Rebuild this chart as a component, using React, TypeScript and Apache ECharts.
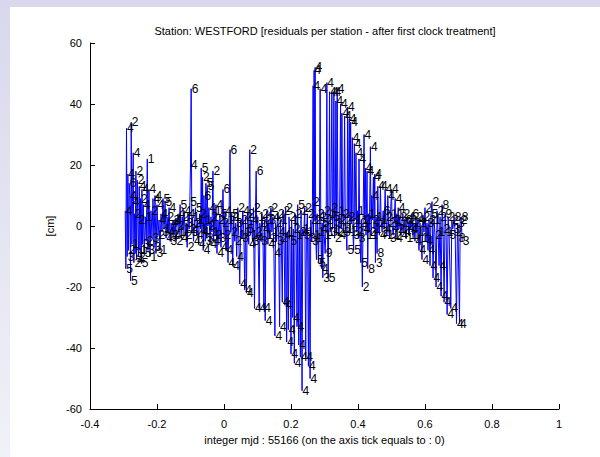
import React, { useEffect, useRef } from "react";
import * as echarts from "echarts";

const titleText = "Station: WESTFORD [residuals per station - after first clock treatment]";
const xAxisTitle = "integer mjd : 55166 (on the axis tick equals to : 0)";
const yAxisTitle = "[cm]";
const xTicks = [-0.4, -0.2, 0, 0.2, 0.4, 0.6, 0.8, 1];
const yTicks = [-60, -40, -20, 0, 20, 40, 60];

// [mjd offset, residual cm, baseline label]
const earlySession = [
  [-0.295, 5, 4], [-0.293, -14, 5], [-0.291, 32, 4], [-0.289, -10, 3], [-0.287, 17, 4], [-0.285, -8, 2], [-0.283, 14, 6], [-0.281, 10, 4],
  [-0.279, -18, 5], [-0.277, 34, 2], [-0.275, -6, 1], [-0.273, 8, 4], [-0.271, 24, 4], [-0.269, -12, 2], [-0.267, 4, 2], [-0.265, -9, 3],
  [-0.263, 18, 2], [-0.261, -11, 4], [-0.259, 15, 2], [-0.257, 2, 2], [-0.255, -10, 2], [-0.253, 13, 4], [-0.251, -8, 1], [-0.249, 9, 2],
  [-0.247, -12, 5], [-0.245, 12, 4], [-0.243, -6, 3], [-0.241, 7, 4], [-0.238, -9, 5], [-0.235, 3, 1], [-0.232, -5, 2], [-0.229, 22, 1],
  [-0.227, -8, 3], [-0.224, 12, 4], [-0.221, -10, 1], [-0.218, 5, 2], [-0.215, -4, 3], [-0.212, 9, 4], [-0.209, -7, 3], [-0.206, 10, 4],
  [-0.203, -9, 3], [-0.2, 7, 4], [-0.197, -3, 2], [-0.194, 2, 4], [-0.191, -8, 1], [-0.188, 4, 4], [-0.185, -2, 3], [-0.182, 9, 5],
  [-0.179, -1, 1], [-0.176, 8, 5], [-0.173, -4, 4], [-0.17, 3, 2], [-0.167, -2, 4], [-0.164, 6, 4], [-0.161, -5, 3], [-0.158, 1, 4],
  [-0.155, -3, 2], [-0.152, 2, 2],
  [-0.149, -3, 4], [-0.146, 2, 4], [-0.143, -5, 2], [-0.14, 0, 2], [-0.137, 4, 4], [-0.134, -2, 1], [-0.131, 7, 5], [-0.128, -4, 4],
  [-0.125, 3, 2], [-0.122, -1, 1], [-0.119, 5, 4], [-0.116, -3, 2], [-0.113, 1, 3], [-0.11, -7, 2], [-0.107, 4, 4], [-0.104, -1, 2],
  [-0.102, 8, 5], [-0.1, 20, 4], [-0.098, 45, 6], [-0.096, -2, 5], [-0.094, 3, 1], [-0.091, -5, 4], [-0.088, 1, 2], [-0.085, 6, 5],
  [-0.082, -3, 4], [-0.079, 2, 1],
];

const middleSession = [
  [-0.076, -6, 4], [-0.073, 4, 2], [-0.07, -1, 1], [-0.068, 19, 5], [-0.066, -2, 4], [-0.064, 16, 2], [-0.062, -8, 4], [-0.06, 10, 6],
  [-0.058, 2, 1], [-0.056, -5, 3], [-0.054, 14, 5], [-0.052, -4, 3], [-0.05, 13, 5], [-0.048, 0, 2], [-0.045, 6, 4], [-0.042, -6, 4],
  [-0.039, 3, 2], [-0.036, -2, 1], [-0.033, 18, 2], [-0.031, -5, 4], [-0.029, 5, 1], [-0.027, -3, 2], [-0.024, 7, 4], [-0.021, -9, 4],
  [-0.018, 2, 2], [-0.015, -4, 3], [-0.012, 4, 5], [-0.009, -7, 4], [-0.006, 1, 2], [-0.003, 12, 6], [0.0, -3, 2], [0.003, 5, 4],
  [0.006, -8, 4], [0.009, 2, 1], [0.012, -12, 4], [0.015, 3, 3], [0.018, 25, 6], [0.02, -2, 2], [0.023, 4, 5], [0.026, -13, 4],
  [0.029, 3, 1], [0.032, -5, 2], [0.035, 1, 3], [0.038, -10, 4], [0.041, 6, 2], [0.044, -3, 1], [0.047, -19, 4],
  [0.05, 2, 2], [0.053, -4, 3], [0.056, 5, 4], [0.059, -2, 1], [0.062, -21, 4], [0.064, 3, 2], [0.067, -22, 4], [0.069, -1, 5],
  [0.071, 4, 2], [0.074, -6, 4], [0.077, 25, 2], [0.079, -3, 1], [0.082, 2, 4], [0.085, -5, 3], [0.088, 6, 2], [0.091, -27, 4],
  [0.093, -2, 2], [0.096, 18, 6], [0.098, -4, 4], [0.101, 3, 1], [0.105, -27, 4], [0.107, 1, 2], [0.11, -5, 3], [0.113, 4, 2],
  [0.116, -1, 4], [0.119, -27, 4], [0.121, 2, 2], [0.123, -31, 4], [0.125, -3, 1], [0.128, 5, 2], [0.131, -6, 4], [0.134, 2, 3],
  [0.137, -4, 2], [0.14, 6, 2], [0.143, -2, 1], [0.146, 3, 4], [0.149, -9, 4], [0.152, -36, 4], [0.154, 1, 2], [0.157, -5, 3],
  [0.16, 4, 2], [0.163, -2, 4], [0.166, -33, 4], [0.168, 2, 1], [0.171, -4, 2], [0.174, -25, 4], [0.176, 5, 2], [0.179, -3, 4],
  [0.182, -26, 4], [0.184, 6, 2], [0.187, -38, 4], [0.189, -2, 1], [0.192, -34, 4], [0.194, 3, 2], [0.197, -5, 5], [0.2, -42, 4],
  [0.202, 2, 1], [0.205, -30, 4], [0.207, -1, 2], [0.21, -45, 4], [0.212, 4, 2], [0.215, -3, 1], [0.218, -33, 4], [0.22, 7, 5],
  [0.223, -39, 4], [0.225, -2, 2], [0.228, -43, 4], [0.23, 5, 2], [0.233, -54, 4], [0.235, -1, 1], [0.238, -3, 5], [0.241, 6, 2],
  [0.244, -43, 4], [0.246, -2, 1], [0.249, 4, 2], [0.252, -46, 4], [0.254, -4, 3], [0.257, -50, 4], [0.259, 2, 2], [0.262, -5, 3],
];

const lateSession = [
  [0.264, 8, 2], [0.266, 46, 4], [0.267, -3, 1], [0.269, 51, 4], [0.271, 2, 2], [0.272, 52, 4], [0.274, -4, 1], [0.276, -11, 5],
  [0.278, 4, 2], [0.28, -2, 1], [0.282, -12, 5], [0.285, 3, 2], [0.287, 45, 4], [0.289, -1, 4], [0.291, -14, 4], [0.293, 1, 5],
  [0.295, -17, 3], [0.297, 5, 2], [0.299, -3, 1], [0.302, -9, 9], [0.305, 2, 2], [0.307, 47, 4], [0.309, -2, 1], [0.311, -17, 5],
  [0.313, 4, 1], [0.315, 44, 4], [0.317, -2, 3], [0.319, 6, 2], [0.322, 44, 4], [0.324, -1, 1], [0.326, 3, 5], [0.328, 44, 4],
  [0.33, -4, 2], [0.332, 1, 3], [0.334, 41, 4], [0.336, -2, 2], [0.338, 45, 4], [0.34, 5, 1], [0.343, -3, 4], [0.345, 2, 2],
  [0.348, 40, 4], [0.35, -1, 1], [0.352, 37, 4], [0.354, 4, 2], [0.357, -2, 3], [0.36, 36, 4], [0.362, 2, 2], [0.364, -1, 1],
  [0.367, -8, 5], [0.369, 39, 4], [0.371, 3, 2], [0.374, 35, 4], [0.376, -2, 1], [0.378, 34, 4], [0.38, 1, 2], [0.383, 29, 4],
  [0.385, -3, 3], [0.387, -8, 5], [0.389, 27, 4], [0.391, 2, 1], [0.394, 24, 4], [0.396, -2, 2], [0.398, 5, 1], [0.401, -4, 3],
  [0.403, 22, 4], [0.405, 1, 2], [0.408, -12, 5], [0.41, 2, 1], [0.413, -20, 2], [0.415, -1, 4], [0.418, 30, 4], [0.42, 2, 2],
  [0.422, 19, 4], [0.424, -3, 1], [0.427, 18, 4], [0.429, -14, 8], [0.431, 4, 1], [0.434, -2, 2], [0.437, 26, 4], [0.439, -3, 1],
  [0.441, 10, 4], [0.443, 2, 2], [0.446, 16, 4], [0.448, -1, 1], [0.45, 17, 4], [0.452, -12, 3], [0.454, 3, 1], [0.457, -9, 8],
  [0.459, 13, 4], [0.461, 1, 2], [0.464, -3, 4], [0.467, 13, 4], [0.469, 2, 1], [0.472, -2, 2], [0.475, 5, 6], [0.478, -1, 4],
  [0.481, 12, 4], [0.483, 3, 2], [0.486, -3, 1], [0.489, 10, 4], [0.491, 1, 2], [0.494, -4, 3], [0.497, 4, 1], [0.5, 12, 4],
  [0.502, 0, 2], [0.505, -3, 1], [0.508, 2, 2], [0.511, 9, 4], [0.513, -4, 4], [0.516, 4, 1], [0.518, -1, 2], [0.52, 6, 4],
  [0.522, -1, 1], [0.525, 3, 2], [0.528, -3, 4], [0.531, 1, 1], [0.534, 4, 2], [0.537, -2, 4], [0.54, 2, 6], [0.543, -4, 1],
  [0.546, 0, 2], [0.549, 3, 4], [0.552, -3, 1], [0.555, 2, 2], [0.558, -1, 4], [0.561, 4, 6], [0.564, -3, 1], [0.567, 1, 2],
  [0.57, -5, 4], [0.573, 3, 2], [0.576, -2, 1], [0.579, 2, 4], [0.582, -8, 4], [0.585, 1, 2], [0.588, -4, 1], [0.591, -11, 4],
  [0.594, 3, 2], [0.597, -2, 1], [0.6, 6, 2], [0.603, -5, 4], [0.606, 1, 3], [0.609, -8, 4], [0.612, 2, 2], [0.615, -13, 4],
  [0.618, 4, 5], [0.621, 8, 2], [0.624, -17, 4], [0.627, 2, 1], [0.63, -3, 2], [0.633, -20, 4], [0.636, 5, 2], [0.639, -2, 1],
  [0.642, -13, 4], [0.645, 3, 2], [0.648, -23, 4], [0.651, 7, 8], [0.654, -1, 2], [0.657, -25, 4], [0.66, 4, 9], [0.663, -2, 1],
  [0.666, -29, 4], [0.669, 3, 2], [0.672, -3, 5], [0.677, -27, 4], [0.68, 2, 2], [0.683, -1, 3], [0.687, 3, 8], [0.69, -2, 2],
  [0.694, -32, 4], [0.697, 1, 3], [0.699, -4, 8], [0.703, -32, 4], [0.705, 2, 2], [0.708, 3, 8], [0.711, -5, 3],
];

const FONT = "'Liberation Sans', Arial, Helvetica, sans-serif";

export default function App() {
  const ref = useRef<HTMLDivElement>(null);
  useEffect(() => {
    if (!ref.current) return;
    const chart = echarts.init(ref.current, null, { renderer: "svg" });
    const data = [...earlySession, ...middleSession, ...lateSession];
    const fmt = (v: number) => String(Math.round(v * 10) / 10);
    chart.setOption({
      animation: false,
      graphic: [
        {
          type: "text",
          x: 325,
          y: 31,
          style: {
            text: titleText,
            align: "center",
            verticalAlign: "middle",
            textAlign: "center",
            textVerticalAlign: "middle",
            fontSize: 11,
            fontFamily: FONT,
            fill: "#000",
          },
        },
      ],
      grid: { left: 90, right: 41, top: 43, bottom: 48, containLabel: false },
      xAxis: {
        type: "value",
        min: xTicks[0],
        max: xTicks[xTicks.length - 1],
        interval: 0.2,
        name: xAxisTitle,
        nameLocation: "middle",
        nameGap: 25,
        nameTextStyle: { color: "#000", fontSize: 11, fontFamily: FONT },
        axisLine: { show: true, onZero: false, lineStyle: { color: "#000", width: 1 } },
        axisTick: { show: true, inside: true, length: 5, lineStyle: { color: "#000" } },
        axisLabel: { color: "#000", fontSize: 11, fontFamily: FONT, margin: 9, formatter: fmt },
        splitLine: { show: false },
      },
      yAxis: {
        type: "value",
        min: yTicks[0],
        max: yTicks[yTicks.length - 1],
        interval: 20,
        name: yAxisTitle,
        nameLocation: "middle",
        nameGap: 24,
        nameRotate: 90,
        nameTextStyle: { color: "#000", fontSize: 11, fontFamily: FONT },
        axisLine: { show: true, onZero: false, lineStyle: { color: "#000", width: 1 } },
        axisTick: { show: true, inside: true, length: 5, lineStyle: { color: "#000" } },
        axisLabel: { color: "#000", fontSize: 11, fontFamily: FONT, margin: 8 },
        splitLine: { show: false },
      },
      series: [
        {
          type: "line",
          data,
          silent: true,
          symbol: "circle",
          symbolSize: 1,
          showAllSymbol: true,
          itemStyle: { color: "rgba(0,0,0,0)" },
          lineStyle: { color: "#0000ff", width: 1 },
          label: {
            show: true,
            position: "right",
            distance: 0,
            color: "#000",
            fontSize: 12,
            fontFamily: FONT,
            formatter: (p: any) => String(p.value[2]),
          },
          emphasis: { disabled: true },
        },
      ],
    });
    return () => chart.dispose();
  }, []);
  return (
    <div
      style={{
        position: "fixed",
        left: 0,
        top: 0,
        width: 600,
        height: 457,
        background: "linear-gradient(to bottom, #d9d7ec, #f1f1f8)",
      }}
    >
      <div style={{ position: "absolute", left: 10, top: 7, right: 0, bottom: 0, background: "#fff" }} />
      <div ref={ref} style={{ position: "absolute", left: 0, top: 0, width: 600, height: 457 }} />
    </div>
  );
}
